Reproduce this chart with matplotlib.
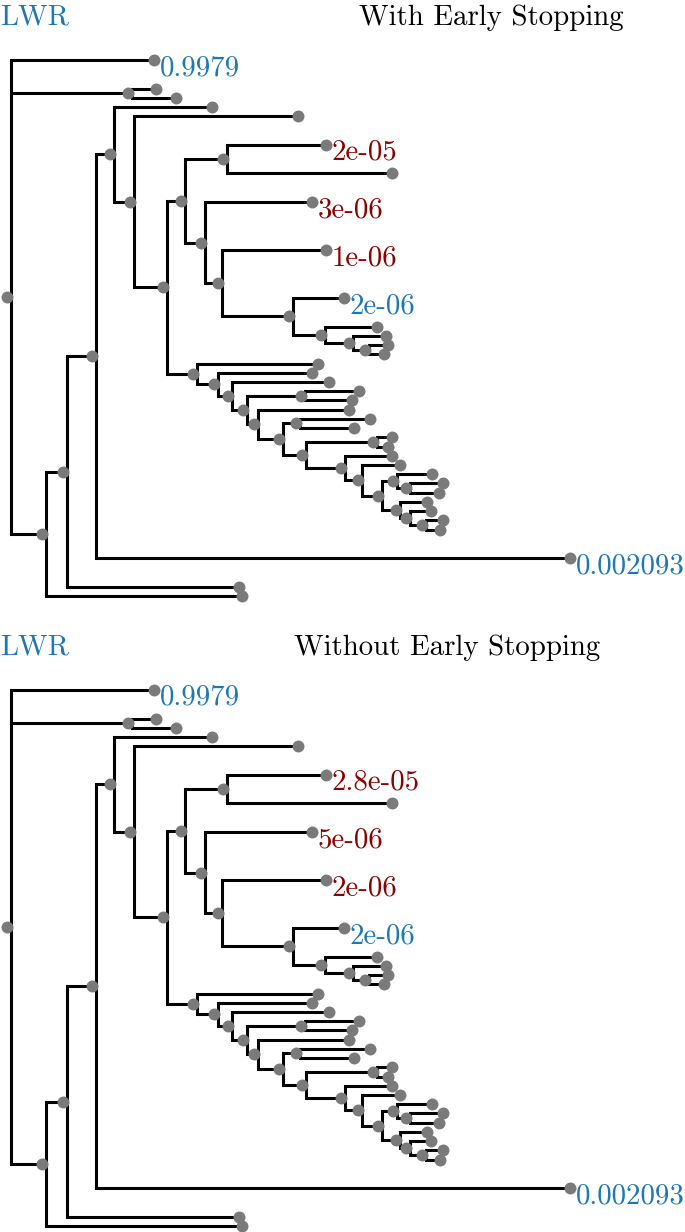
import numpy as np
import matplotlib
matplotlib.use('Agg')
import matplotlib.pyplot as plt
from matplotlib import transforms

plt.rcParams['font.family'] = ['cmr10', 'DejaVu Serif']

# tree stored in pre-order: parent of every node and its branch length
parent = [-1, 0, 0, 2, 2, 0, 5, 6, 7, 8, 8, 10, 10, 12, 13, 14, 14, 13, 17, 17,
          19, 19, 21, 21, 23, 23, 25, 25, 27, 27, 12, 30, 30, 32, 32, 34, 34, 36, 37, 37,
          36, 40, 40, 42, 43, 43, 42, 46, 47, 47, 46, 50, 50, 52, 52, 54, 55, 55, 57, 57,
          54, 60, 60, 62, 62, 64, 64, 7, 6, 5]
branch_len = [0.00, 1.47, 1.21, 0.28, 0.48, 0.35, 0.21, 0.29, 0.18, 1.02,
              0.20, 1.68, 0.33, 0.18, 0.42, 1.03, 1.69, 0.20, 1.11, 0.17,
              1.08, 0.71, 0.55, 0.32, 0.56, 0.28, 0.37, 0.16, 0.23, 0.19,
              0.30, 1.25, 0.21, 0.98, 0.14, 1.01, 0.15, 0.58, 0.58, 0.51,
              0.11, 0.95, 0.25, 0.17, 0.74, 0.58, 0.23, 0.71, 0.19, 0.15,
              0.39, 0.51, 0.17, 0.42, 0.20, 0.15, 0.39, 0.13, 0.37, 0.33,
              0.18, 0.31, 0.10, 0.25, 0.16, 0.21, 0.18, 4.78, 1.76, 2.00]

# placements shown with their LWR
label_nodes = [1, 15, 18, 20, 22, 67]
label_colors = ['#1f77b4', '#8b0000', '#8b0000', '#8b0000', '#1f77b4', '#1f77b4']
lwr_early = ['0.9979', '2e-05', '3e-06', '1e-06', '2e-06', '0.002093']
lwr_full = ['0.9979', '2.8e-05', '5e-06', '2e-06', '2e-06', '0.002093']


def layout(pad=2.1):
    n = len(parent)
    children = [[] for _ in range(n)]
    for i, p in enumerate(parent):
        if p >= 0:
            children[p].append(i)
    x = np.zeros(n)
    for i in range(1, n):
        x[i] = x[parent[i]] + branch_len[i]
    y = np.zeros(n)
    leaves = [i for i in range(n) if not children[i]]
    prev = None
    row = 0.0
    for lf in leaves:
        if prev is not None:
            row += 1 + pad * ((prev in label_nodes) + (lf in label_nodes))
        y[lf] = row
        prev = lf
    for i in reversed(range(n)):
        if children[i]:
            y[i] = (y[children[i][0]] + y[children[i][-1]]) / 2
    return x, y, children


def draw_tree(fig, ax, labels, title, title_x):
    x, y, children = layout()
    for i, ch in enumerate(children):
        if not ch:
            continue
        first, last = ch[0], ch[-1]
        ax.plot([x[first], x[i], x[i], x[last]], [y[first], y[first], y[last], y[last]],
                color='black', lw=2.2, solid_joinstyle='miter', zorder=1)
        for c in ch[1:-1]:
            ax.plot([x[i], x[c]], [y[c], y[c]], color='black', lw=2.2, zorder=1)
    dot_tr = transforms.offset_copy(ax.transData, fig=fig, x=-4, y=0, units='dots')
    ax.plot(x, y, 'o', color='#7a7a7a', ms=8.6, mew=0, transform=dot_tr, zorder=2)
    txt_tr = transforms.offset_copy(ax.transData, fig=fig, x=1.5, y=-15, units='dots')
    for node, lab, col in zip(label_nodes, labels, label_colors):
        ax.text(x[node], y[node], lab, color=col, fontsize=20.8, ha='left',
                va='baseline', transform=txt_tr, zorder=3)
    ax.text(0.0, 0.9585, 'LWR', color='#1f77b4', fontsize=20.8, ha='left',
            va='baseline', transform=ax.transAxes)
    ax.text(title_x, 0.9585, title, color='black', fontsize=20.8, ha='center',
            va='baseline', transform=ax.transAxes)
    # leaves span 60..596 px inside a 602 px tall panel
    px_per_row = 536 / y.max()
    ax.set_xlim(-0.11, 6.74)
    ax.set_ylim((602 - 60) / px_per_row, -60 / px_per_row)
    ax.axis('off')


fig = plt.figure(figsize=(6.85, 12.32), dpi=100)
ax1 = fig.add_axes([0, 630 / 1232, 1, 602 / 1232])
ax2 = fig.add_axes([0, 0, 1, 602 / 1232])
draw_tree(fig, ax1, lwr_early, 'With Early Stopping', 0.717)
draw_tree(fig, ax2, lwr_full, 'Without Early Stopping', 0.6526)
fig.savefig('out.png', dpi=100)
